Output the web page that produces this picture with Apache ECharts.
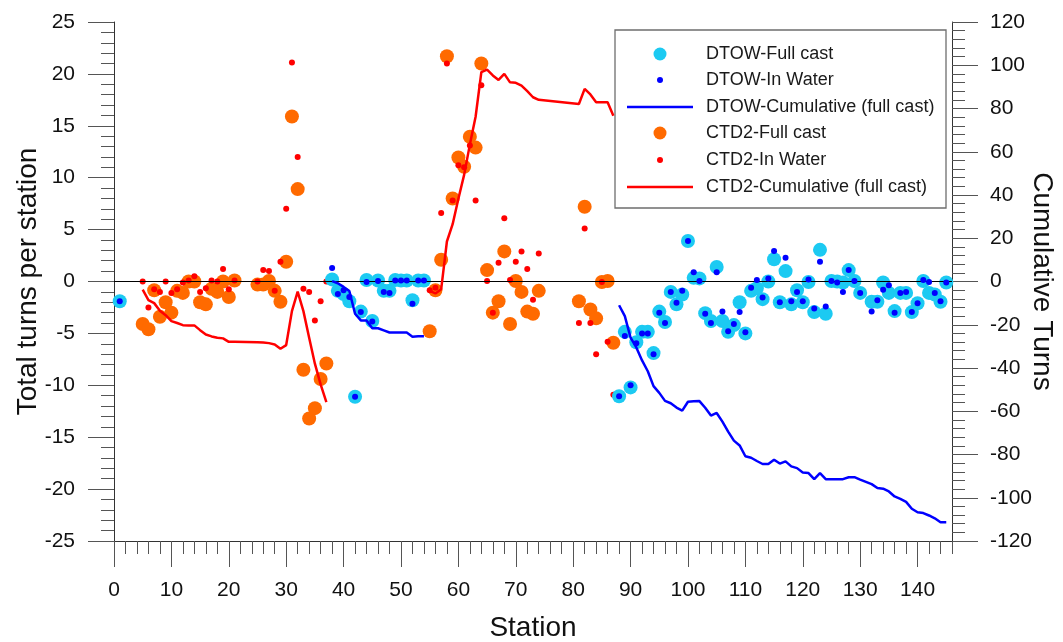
<!DOCTYPE html>
<html>
<head>
<meta charset="utf-8">
<script src="https://cdn.jsdelivr.net/npm/echarts@6/dist/echarts.min.js"></script>
<style>
html, body { margin: 0; padding: 0; background: #ffffff; }
#chart { width: 1063px; height: 642px; }
</style>
</head>
<body>
<div id="chart"></div>
<script>
// ---------------- DATA ----------------
const xTicks = [0, 10, 20, 30, 40, 50, 60, 70, 80, 90, 100, 110, 120, 130, 140];

// DTOW stations and per-station turns
const dtowStations = [1,
  38,39,40,41,42,43,44,45,46,47,48,49,50,51,52,53,54,
  88,89,90,91,92,93,94,95,96,97,98,99,100,101,102,103,104,105,106,107,108,109,110,
  111,112,113,114,115,116,117,118,119,120,121,122,123,124,125,126,127,128,129,130,
  132,133,134,135,136,137,138,139,140,141,142,143,144,145];
const dtowFull = [-1.9,
  0.2,-0.9,-1.2,-1.9,-11.1,-2.9,0.15,-3.8,0.1,-0.9,-0.9,0.15,0.1,0.1,-1.8,0.1,0.1,
  -11.05,-4.85,-10.2,-5.85,-4.85,-4.85,-6.9,-2.9,-3.9,-1.0,-2.2,-1.25,3.9,0.35,0.3,-3.05,-3.8,1.4,-3.8,-4.85,-4.2,-2.0,-5.0,
  -0.9,-0.65,-1.7,0.0,2.15,-2.0,1.0,-2.2,-0.85,-2.0,-0.05,-2.95,3.05,-3.1,0.05,0.0,-0.1,1.1,0.05,-1.1,
  -1.95,-1.95,-0.1,-1.1,-2.85,-1.1,-1.1,-2.95,-2.1,0.05,-1.1,-1.25,-1.95,-0.1];
const dtowWater = [-1.9,
  1.3,-1.2,-0.85,-1.5,-11.1,-2.95,-0.05,-3.85,0.05,-1.0,-1.1,0.1,0.1,0.1,-2.15,0.1,0.1,
  -11.05,-5.25,-10.0,-5.95,-5.0,-5.0,-7.0,-3.0,-4.0,-1.0,-2.05,-0.9,3.9,0.9,0.05,-3.1,-4.0,0.9,-2.9,-4.8,-4.1,-2.95,-4.9,
  -0.6,0.15,-1.55,0.3,2.95,-2.0,2.3,-1.9,-1.0,-1.9,0.2,-2.6,1.9,-2.4,0.05,-0.1,-1.0,1.1,0.05,-1.1,
  -2.9,-1.8,-0.8,-0.35,-3.0,-1.1,-1.0,-2.95,-2.1,0.15,-0.05,-1.1,-1.9,-0.1];

// DTOW cumulative (full cast), two runs
const dtowCumStations1 = [38,39,40,41,42,43,44,45,46,47,48,49,50,51,52,53,54];
const dtowCum1 = [0.2,-0.8,-2.5,-4.4,-14.9,-18.0,-18.0,-21.6,-21.6,-22.6,-23.6,-23.6,-23.6,-23.6,-25.5,-25.3,-25.3];
const dtowCumStations2 = [88,89,90,91,92,93,94,95,96,97,98,99,100,101,102,103,104,105,106,107,108,109,110,
  111,112,113,114,115,116,117,118,119,120,121,122,123,124,125,126,127,128,129,130,
  132,133,134,135,136,137,138,139,140,141,142,143,144,145];
const dtowCum2 = [-11.0,-16.0,-26.0,-30.5,-36.5,-41.5,-48.4,-51.5,-55.2,-56.3,-58.3,-59.7,-55.6,-55.4,-55.3,-58.4,-62.0,-60.8,-64.8,-69.4,-73.6,-75.8,-80.8,
  -81.5,-83.0,-84.4,-84.4,-82.4,-84.2,-83.2,-85.5,-86.3,-88.3,-88.6,-91.4,-88.6,-91.4,-91.4,-91.4,-91.4,-90.5,-90.5,-91.6,
  -93.7,-95.5,-95.8,-97.1,-99.4,-100.5,-101.9,-105.1,-106.7,-107.1,-108.2,-109.5,-111.3,-111.3];

// CTD2 stations and per-station turns
const ctdStations = [5,6,7,8,9,10,11,12,13,14,15,16,17,18,19,20,21,
  25,26,27,28,29,30,31,32,33,34,35,36,37,
  55,56,57,58,59,60,61,62,63,64,65,66,67,68,69,70,71,72,73,74,
  81,82,83,84,85,86,87];
const ctdFull = [-4.1,-4.6,-0.85,-3.4,-2.0,-3.0,-0.9,-1.1,0.0,0.0,-2.0,-2.2,-0.7,-1.0,0.0,-1.5,0.1,
  -0.3,-0.3,0.05,-0.9,-1.95,1.9,15.9,8.9,-8.5,-13.2,-12.2,-9.4,-7.9,
  -4.8,-0.85,2.1,21.7,8.0,11.95,11.05,13.95,12.9,21.0,1.1,-3.0,-1.9,2.9,-4.1,0.05,-1.0,-2.9,-3.1,-0.9,
  -1.9,7.2,-2.7,-3.55,-0.05,0.05,-5.9];
const ctdWater = [0.0,-2.5,-0.75,-1.0,0.0,-1.1,-0.75,-0.1,0.1,0.5,-1.0,-0.65,0.1,0.0,1.2,-0.75,0.1,
  0.0,1.1,1.0,-0.9,1.9,7.0,21.1,12.0,-0.7,-1.0,-3.75,-1.9,0.0,
  -0.85,-0.6,6.6,21.0,7.8,11.2,11.0,13.1,7.8,18.9,0.05,-3.0,1.8,6.1,0.15,1.9,2.9,1.2,-1.75,2.7,
  -4.0,5.1,-4.0,-7.0,-0.05,-5.8,-10.9];

// CTD2 cumulative (full cast), two runs
const ctdCumStations1 = [5,6,7,8,9,10,11,12,13,14,15,16,17,18,19,20,21,25,26,27,28,29,30,31,32,33,34,35,36,37];
const ctdCum1 = [-3.8,-8.6,-10.0,-13.5,-15.6,-18.3,-19.2,-20.2,-20.3,-20.3,-22.5,-24.5,-25.4,-26.0,-26.3,-27.9,-27.9,
  -28.1,-28.2,-28.5,-29.1,-31.1,-29.4,-13.7,-4.7,-13.7,-26.0,-38.0,-47.6,-55.8];
const ctdCumStations2 = [55,56,57,58,59,60,61,62,63,64,65,66,67,68,69,70,71,72,73,74,81,82,83,84,85,86,87];
const ctdCum2 = [-4.3,-5.5,-3.6,18.5,26.5,38.3,49.3,63.3,76.2,96.8,98.0,95.3,93.2,96.0,92.1,91.9,90.6,88.0,85.2,84.0,
  82.1,89.1,86.5,82.9,82.9,82.9,76.7];

// ---------------- CHART ----------------
const FONT = "'Liberation Sans', Arial, Helvetica, sans-serif";
const pairs = (xs, ys) => xs.map((x, i) => [x, ys[i]]);

const C_CYAN = '#1ccaf2', C_BLUE = '#0000ff', C_ORANGE = '#ff6a00', C_RED = '#ff0000';
const names = ['DTOW-Full cast', 'DTOW-In Water', 'DTOW-Cumulative (full cast)',
               'CTD2-Full cast', 'CTD2-In Water', 'CTD2-Cumulative (full cast)'];

const axisColor = '#333333';
const tickStyle = { color: '#555555', width: 1 };

// legend layout: icon column centred at x=660, text column starting at x=706
const LEG_ICON_CX = 660, LEG_LINE_W = 66, LEG_TEXT_X = 706;
const legendRows = [
  { name: names[0], y: 54,  h: 13,  icon: 'circle' },
  { name: names[1], y: 80,  h: 6,   icon: 'circle' },
  { name: names[2], y: 107, h: 2.5, icon: 'rect' },
  { name: names[3], y: 133, h: 13,  icon: 'circle' },
  { name: names[4], y: 160, h: 6,   icon: 'circle' },
  { name: names[5], y: 187, h: 2.5, icon: 'rect' }
];

const chart = echarts.init(document.getElementById('chart'), null, { renderer: 'canvas' });

const option = {
  animation: false,
  backgroundColor: '#ffffff',
  grid: { left: 114, right: 111, top: 22, bottom: 101, outerBoundsMode: 'none', containLabel: false },
  xAxis: [
    {
      type: 'value', min: 0, max: 146, interval: 10, position: 'bottom',
      axisLine: { show: true, onZero: false, lineStyle: { color: axisColor, width: 1 } },
      axisTick: { show: true, length: 26, lineStyle: tickStyle },
      axisLabel: {
        show: true, margin: 39, fontSize: 21, color: '#111', fontFamily: FONT,
        showMaxLabel: false,
        formatter: v => (xTicks.indexOf(v) >= 0 ? String(v) : '')
      },
      splitLine: { show: false },
      name: 'Station', nameLocation: 'middle', nameGap: 73, nameMoveOverlap: false,
      nameTextStyle: { fontSize: 28, color: '#111', fontFamily: FONT }
    },
    {
      type: 'value', min: 0, max: 146, interval: 2, position: 'bottom',
      axisLine: { show: false, onZero: false },
      axisTick: { show: true, length: 13, lineStyle: tickStyle },
      axisLabel: { show: false },
      splitLine: { show: false }
    }
  ],
  yAxis: [
    {
      type: 'value', min: -25, max: 25, interval: 5, position: 'left',
      axisLine: { show: true, onZero: false, lineStyle: { color: axisColor, width: 1 } },
      axisTick: { show: true, length: 26, lineStyle: tickStyle },
      minorTick: { show: true, splitNumber: 5, length: 13, lineStyle: tickStyle },
      axisLabel: { show: true, margin: 39, fontSize: 21, color: '#111', fontFamily: FONT },
      splitLine: { show: false }, minorSplitLine: { show: false },
      name: 'Total turns per station', nameLocation: 'middle', nameGap: 72, nameRotate: 90,
      nameMoveOverlap: false,
      nameTextStyle: { fontSize: 28, color: '#111', fontFamily: FONT }
    },
    {
      type: 'value', min: -120, max: 120, interval: 20, position: 'right',
      axisLine: { show: true, onZero: false, lineStyle: { color: axisColor, width: 1 } },
      axisTick: { show: true, length: 26, lineStyle: tickStyle },
      minorTick: { show: true, splitNumber: 5, length: 13, lineStyle: tickStyle },
      axisLabel: { show: true, margin: 38, fontSize: 21, color: '#111', fontFamily: FONT },
      splitLine: { show: false }, minorSplitLine: { show: false },
      name: 'Cumulative Turns', nameLocation: 'middle', nameGap: 76, nameRotate: -90,
      nameMoveOverlap: false,
      nameTextStyle: { fontSize: 28, color: '#111', fontFamily: FONT }
    }
  ],
  legend: legendRows.map(r => {
    const w = r.icon === 'circle' ? r.h : LEG_LINE_W;
    const left = LEG_ICON_CX - w / 2;
    const pad = LEG_TEXT_X - (left + w + 5);
    return {
      show: true, orient: 'horizontal', left: left, top: r.y - 10, padding: 0, z: 6,
      itemWidth: w, itemHeight: r.h, selectedMode: false,
      itemStyle: { borderWidth: 0 },
      data: [{ name: r.name, icon: r.icon }],
      textStyle: { fontSize: 18, color: '#1a1a1a', fontFamily: FONT, lineHeight: 20, padding: [0, 0, 0, pad] }
    };
  }),
  graphic: [
    {
      type: 'rect', z: 3,
      shape: { x: 615, y: 30, width: 331, height: 178 },
      style: { fill: '#ffffff', stroke: '#6e6e6e', lineWidth: 1.3 }
    }
  ],
  series: [
    {
      name: names[3], type: 'scatter', xAxisIndex: 0, yAxisIndex: 0, z: 2,
      symbol: 'circle', symbolSize: 14, itemStyle: { color: C_ORANGE, opacity: 1 },
      data: pairs(ctdStations, ctdFull),
      markLine: {
        silent: true, symbol: 'none', label: { show: false }, animation: false,
        lineStyle: { color: '#000', width: 1, type: 'solid' },
        emphasis: { disabled: true },
        data: [{ yAxis: 0 }]
      }
    },
    {
      name: names[4], type: 'scatter', xAxisIndex: 0, yAxisIndex: 0, z: 3,
      symbol: 'circle', symbolSize: 6, itemStyle: { color: C_RED, opacity: 1 },
      data: pairs(ctdStations, ctdWater)
    },
    {
      name: names[0], type: 'scatter', xAxisIndex: 0, yAxisIndex: 0, z: 4,
      symbol: 'circle', symbolSize: 14, itemStyle: { color: C_CYAN, opacity: 1 },
      data: pairs(dtowStations, dtowFull)
    },
    {
      name: names[1], type: 'scatter', xAxisIndex: 0, yAxisIndex: 0, z: 5,
      symbol: 'circle', symbolSize: 6, itemStyle: { color: C_BLUE, opacity: 1 },
      data: pairs(dtowStations, dtowWater)
    },
    {
      name: names[2], type: 'line', xAxisIndex: 0, yAxisIndex: 1, z: 6,
      showSymbol: false, symbol: 'none', lineStyle: { color: C_BLUE, width: 2.5 }, itemStyle: { color: C_BLUE },
      data: pairs(dtowCumStations1, dtowCum1)
    },
    {
      name: names[2], type: 'line', xAxisIndex: 0, yAxisIndex: 1, z: 6,
      showSymbol: false, symbol: 'none', lineStyle: { color: C_BLUE, width: 2.5 }, itemStyle: { color: C_BLUE },
      data: pairs(dtowCumStations2, dtowCum2)
    },
    {
      name: names[5], type: 'line', xAxisIndex: 0, yAxisIndex: 1, z: 6,
      showSymbol: false, symbol: 'none', lineStyle: { color: C_RED, width: 2.5 }, itemStyle: { color: C_RED },
      data: pairs(ctdCumStations1, ctdCum1)
    },
    {
      name: names[5], type: 'line', xAxisIndex: 0, yAxisIndex: 1, z: 6,
      showSymbol: false, symbol: 'none', lineStyle: { color: C_RED, width: 2.5 }, itemStyle: { color: C_RED },
      data: pairs(ctdCumStations2, ctdCum2)
    }
  ]
};

chart.setOption(option);
</script>
</body>
</html>
